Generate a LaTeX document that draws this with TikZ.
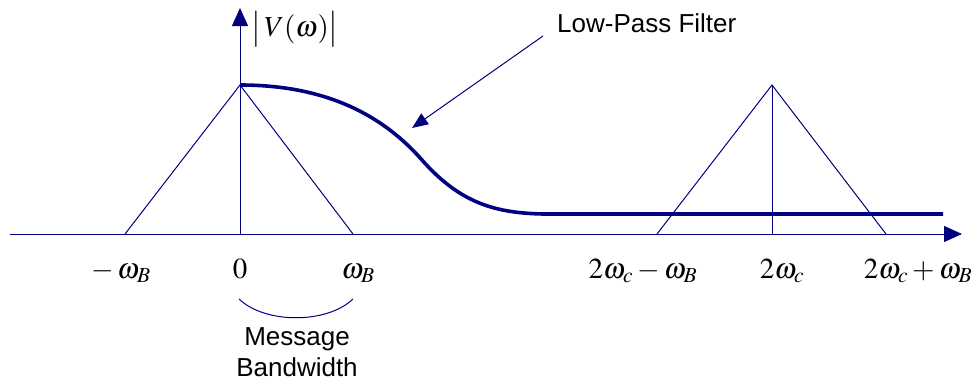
\documentclass[tikz,border=0pt]{standalone}
\usepackage{mathptmx}
\usepackage[no-math]{fontspec}
\newfontfamily\labfont{Liberation Sans}
\usetikzlibrary{arrows.meta}
\definecolor{navyb}{RGB}{0,0,128}
\begin{document}
\begin{tikzpicture}[x=1pt,y=-1pt,
  thinln/.style={draw=navyb, line width=1pt},
  axisln/.style={draw=navyb, line width=1pt, -{Triangle[length=18pt,width=16pt]}},
  filt/.style={draw=navyb, line width=3.6pt, line join=round},
  pointer/.style={draw=navyb, line width=1pt, -{Triangle[length=16pt,width=13pt]}},
  mlab/.style={anchor=base, inner sep=0pt, font=\fontsize{29}{34}\selectfont},
  tlab/.style={inner sep=0pt, font=\labfont\fontsize{26}{31}\selectfont, align=center}]
\useasboundingbox (0,0) rectangle (975,383);
% coordinates
\coordinate (xs) at (10,234);
\coordinate (xe) at (962,234);
\coordinate (o) at (240,234);
\coordinate (ye) at (240,8);
\coordinate (p1) at (240,85);
\coordinate (l1) at (125,234);
\coordinate (r1) at (353,234);
\coordinate (p2) at (772,85);
\coordinate (c2) at (772,234);
\coordinate (l2) at (657,234);
\coordinate (r2) at (886,234);
\coordinate (fm) at (422,160);
\coordinate (fk) at (543,214);
\coordinate (fe) at (943,214);
\coordinate (as) at (543,36);
\coordinate (at) at (412,128);
\coordinate (bl) at (239,299);
\coordinate (br) at (353,299);
% triangles
\draw[thinln] (l1) -- (p1) -- (r1);
\draw[thinln] (l2) -- (p2) -- (r2);
\draw[thinln] (p2) -- (c2);
% axes
\draw[axisln] (xs) -- (xe);
\draw[axisln] (o) -- (ye);
% filter
\draw[filt] (p1) .. controls (330,85) and (385,118) .. (fm)
  .. controls (460,203) and (495,213) .. (fk) -- (fe);
% pointer
\node[tlab, anchor=west] (lpf) at (557,23) {Low-Pass Filter};
\draw[pointer] (as) -- (at);
% labels
\node[inner sep=0pt, font=\fontsize{29}{34}\selectfont] (vw) at (295,29) {$\bigl|\,V(\omega)\bigr|$};
\node[mlab] (t1) at (121,278) {$-\,\omega_B$};
\node[mlab] (t2) at (240,278) {$0$};
\node[mlab] (t3) at (358,278) {$\omega_B$};
\node[mlab] (t4) at (643,278) {$2\omega_c-\omega_B$};
\node[mlab] (t5) at (782,278) {$2\omega_c$};
\node[mlab] (t6) at (918,278) {$2\omega_c+\omega_B$};
% bandwidth brace
\draw[thinln] (bl) .. controls (265,324) and (327,324) .. (br);
\node[tlab] (mb) at (297,352) {Message\\Bandwidth};
\end{tikzpicture}
\end{document}
